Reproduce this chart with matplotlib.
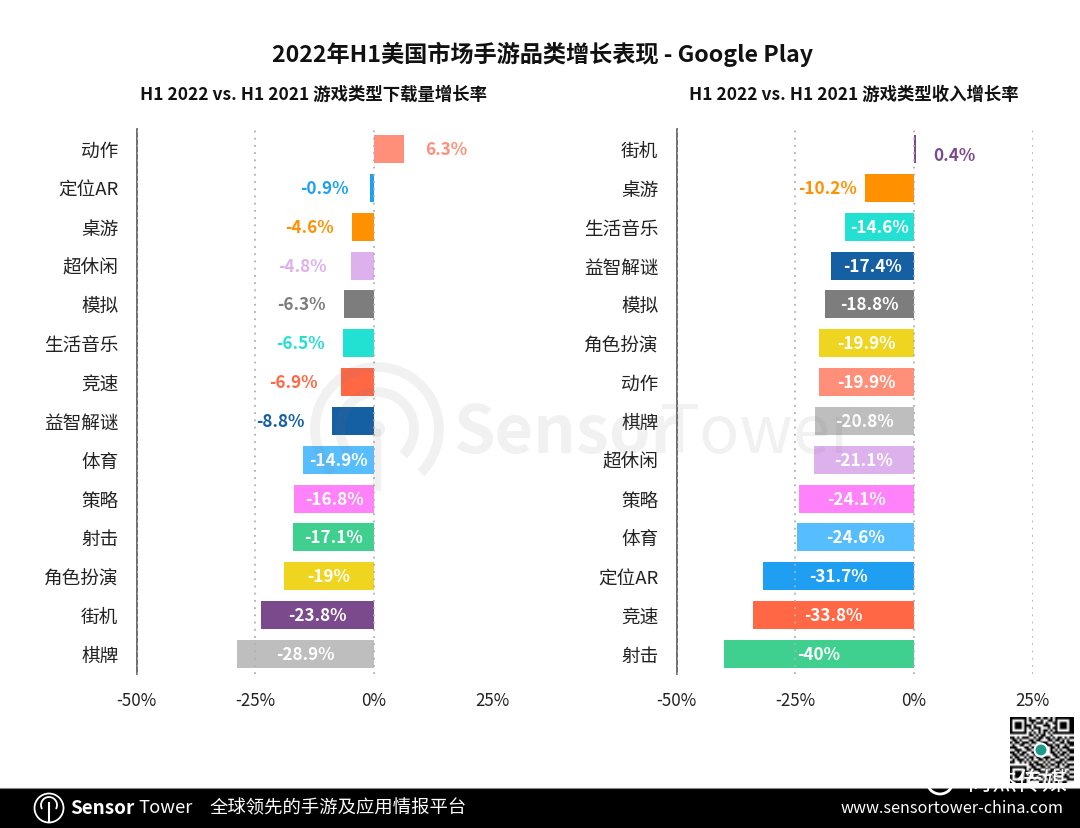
import matplotlib
matplotlib.use('Agg')
import matplotlib.pyplot as plt
from matplotlib.patches import Arc, Circle, Rectangle
import numpy as np

plt.rcParams['font.family'] = ['Noto Sans CJK SC', 'DejaVu Sans']

W, H = 1080, 829

# 左图：下载量增长率
dl_cats = ['动作', '定位AR', '桌游', '超休闲', '模拟', '生活音乐', '竞速', '益智解谜',
           '体育', '策略', '射击', '角色扮演', '街机', '棋牌']
dl_vals = [6.3, -0.9, -4.6, -4.8, -6.3, -6.5, -6.9, -8.8,
           -14.9, -16.8, -17.1, -19, -23.8, -28.9]

# 右图：收入增长率
rev_cats = ['街机', '桌游', '生活音乐', '益智解谜', '模拟', '角色扮演', '动作', '棋牌',
            '超休闲', '策略', '体育', '定位AR', '竞速', '射击']
rev_vals = [0.4, -10.2, -14.6, -17.4, -18.8, -19.9, -19.9, -20.8,
            -21.1, -24.1, -24.6, -31.7, -33.8, -40]

colors = {
    '动作': '#FF8F78', '定位AR': '#1E9FF2', '桌游': '#FF9100', '超休闲': '#DDB1EC',
    '模拟': '#7D7D7D', '生活音乐': '#22E0D2', '竞速': '#FF6745', '益智解谜': '#155FA3',
    '体育': '#56BEFF', '策略': '#FF82FA', '射击': '#3FCF8E', '角色扮演': '#EFD520',
    '街机': '#7B4A8C', '棋牌': '#BEBEBE',
}

xticks = [-50, -25, 0, 25]
xticklabels = ['-50%', '-25%', '0%', '25%']

title = '2022年H1美国市场手游品类增长表现 - Google Play'
dl_title = 'H1 2022 vs. H1 2021 游戏类型下载量增长率'
rev_title = 'H1 2022 vs. H1 2021 游戏类型收入增长率'
slogan = '全球领先的手游及应用情报平台'
site = 'www.sensortower-china.com'

# 柱外标签的微调（像素）
dl_nudge = {'定位AR': (-2, 0), '超休闲': (-6, 0), '竞速': (-5, 0), '益智解谜': (-9, 0)}
rev_nudge = {'街机': (1, 6)}

# 二维码图案（示意）
qr_rows = [
    '111111101001101101011111111',
    '100000101110010011010000011',
    '101110100101110100110111011',
    '101110111010001110010111011',
    '101110101011100010110111011',
    '100000100100101101010000011',
    '111111101010101010111111111',
    '000000001101011001000000000',
    '110101110010110110101101011',
    '011010001101100011011010100',
    '101101110110011100100110111',
    '010011001001101111011001011',
    '111000110110000001101011100',
    '001110011010000001010100111',
    '110101100110000001101011011',
    '011011010010000000110110100',
    '101100101101101110011001011',
    '010111010100110101100110111',
    '110010101011001010011101000',
    '000000001101110101101010111',
    '111111100110011010011001100',
    '100000101011100101100110011',
    '101110110100111011011010100',
    '101110101011000100101101011',
    '101110110010110111010011100',
    '100000101101001010101100111',
    '111111101010110101011011000',
]


def make_ax(fig, left, right, top, bottom):
    return fig.add_axes([left / W, 1 - bottom / H, (right - left) / W, (bottom - top) / H])


def draw_panel(ax, cats, vals, out_offset, nudge):
    y = np.arange(len(cats))
    ax.barh(y, vals, height=0.72, color=[colors[c] for c in cats], zorder=2)
    ax.set_xlim(-50, 25)
    ax.set_ylim(len(cats) - 0.48, -0.52)
    ax.set_yticks(y)
    ax.set_yticklabels(cats, fontsize=13.4, color='#222222')
    ax.set_xticks(xticks)
    ax.set_xticklabels(xticklabels, fontsize=12.2, color='#222222')
    ax.tick_params(axis='both', length=0)
    ax.tick_params(axis='y', pad=13)
    ax.tick_params(axis='x', pad=12)
    for s in ['top', 'right', 'bottom']:
        ax.spines[s].set_visible(False)
    ax.spines['left'].set_color('#555555')
    ax.spines['left'].set_linewidth(1.2)
    ax.xaxis.grid(True, color='#B0B0B0', linestyle=(0, (1, 3)), linewidth=1.3, zorder=3)
    ax.set_axisbelow(False)
    for i, (c, v) in enumerate(zip(cats, vals)):
        label = f'{v:g}%'
        if abs(v) < 10.5:
            dx, dy = nudge.get(c, (0, 0))
            x = v + out_offset if v > 0 else v - out_offset
            ax.text(x + dx / 4.747, i + dy / 38.8, label, ha='center', va='center', fontsize=12.3,
                    fontweight='bold', color=colors[c], zorder=4)
        else:
            ax.text(v / 2, i, label, ha='center', va='center', fontsize=12.3,
                    fontweight='bold', color='white', zorder=4)


fig = plt.figure(figsize=(W / 100, H / 100), dpi=100, facecolor='white')

ax1 = make_ax(fig, 136.5, 492.5, 130, 675)
draw_panel(ax1, dl_cats, dl_vals, 9.0, dl_nudge)
ax2 = make_ax(fig, 676.5, 1032.5, 130, 675)
draw_panel(ax2, rev_cats, rev_vals, 8.0, rev_nudge)

# 像素坐标的覆盖层：标题、水印、页脚、二维码
ov = fig.add_axes([0, 0, 1, 1], zorder=10)
ov.patch.set_alpha(0)
ov.axis('off')

ov.text(543, 54, title, ha='center', va='center', fontsize=16.7, fontweight='bold', color='#111111')
ov.text(314, 95, dl_title, ha='center', va='center', fontsize=12.5, fontweight='bold', color='#111111')
ov.text(854, 95, rev_title, ha='center', va='center', fontsize=12.5, fontweight='bold', color='#111111')

# 水印
wm = dict(color='#777777', alpha=0.10)
ov.text(453, 434, 'Sensor', ha='left', va='center', fontsize=48, fontweight='bold', **wm)
ov.text(660, 434, 'Tower', ha='left', va='center', fontsize=48, **wm)
cx, cy = 377, 430
ov.add_patch(Arc((cx, cy), 124, 124, theta1=135, theta2=405, lw=7, color='#777777', alpha=0.10))
ov.add_patch(Arc((cx, cy), 74, 74, theta1=135, theta2=405, lw=7, color='#777777', alpha=0.10))
ov.add_patch(Circle((cx, cy), 8, fc='#777777', ec='none', alpha=0.10))
ov.add_patch(Rectangle((cx - 4, cy), 8, 62, fc='#777777', ec='none', alpha=0.10))

# 二维码
qr = np.array([[1 - int(ch) for ch in r] for r in qr_rows])
ov.imshow(qr, cmap='gray', vmin=0, vmax=1, extent=(1010, 1074, 784, 718),
          interpolation='bilinear', zorder=1, aspect='auto')
ov.add_patch(Circle((1041, 751), 6.5, fc='#1E9A8C', ec='white', lw=1.5, zorder=3))

# 页脚
ov.add_patch(Rectangle((0, 789), W, 40, fc='black', ec='none', zorder=2))
ov.plot([0, W], [788.5, 788.5], color='#888888', lw=0.8, zorder=2)
ov.add_patch(Circle((49, 809), 14.5, fc='none', ec='white', lw=1.3, zorder=3))
ov.add_patch(Arc((49, 806), 16, 16, theta1=150, theta2=390, color='white', lw=1.3, zorder=3))
ov.plot([49, 49], [804, 822], color='white', lw=1.5, zorder=3)
ov.text(70, 808.5, 'Sensor', ha='left', va='center', fontsize=13.6, fontweight='bold', color='white', zorder=3)
ov.text(138, 808.5, 'Tower', ha='left', va='center', fontsize=13.2, color='white', zorder=3)
ov.text(210, 808.5, slogan, ha='left', va='center', fontsize=13.2, color='white', zorder=3)
ov.text(1064, 809, site, ha='right', va='center', fontsize=11.7, color='white', zorder=3)

# 公众号水印
ov.add_patch(Circle((940, 782), 13, fc='none', ec='white', lw=2, zorder=3))
ov.text(1067, 783, '尚杰传媒', ha='right', va='center', fontsize=18, color='white', zorder=4)

ov.set_xlim(0, W)
ov.set_ylim(H, 0)

fig.savefig('out.png', dpi=100)
